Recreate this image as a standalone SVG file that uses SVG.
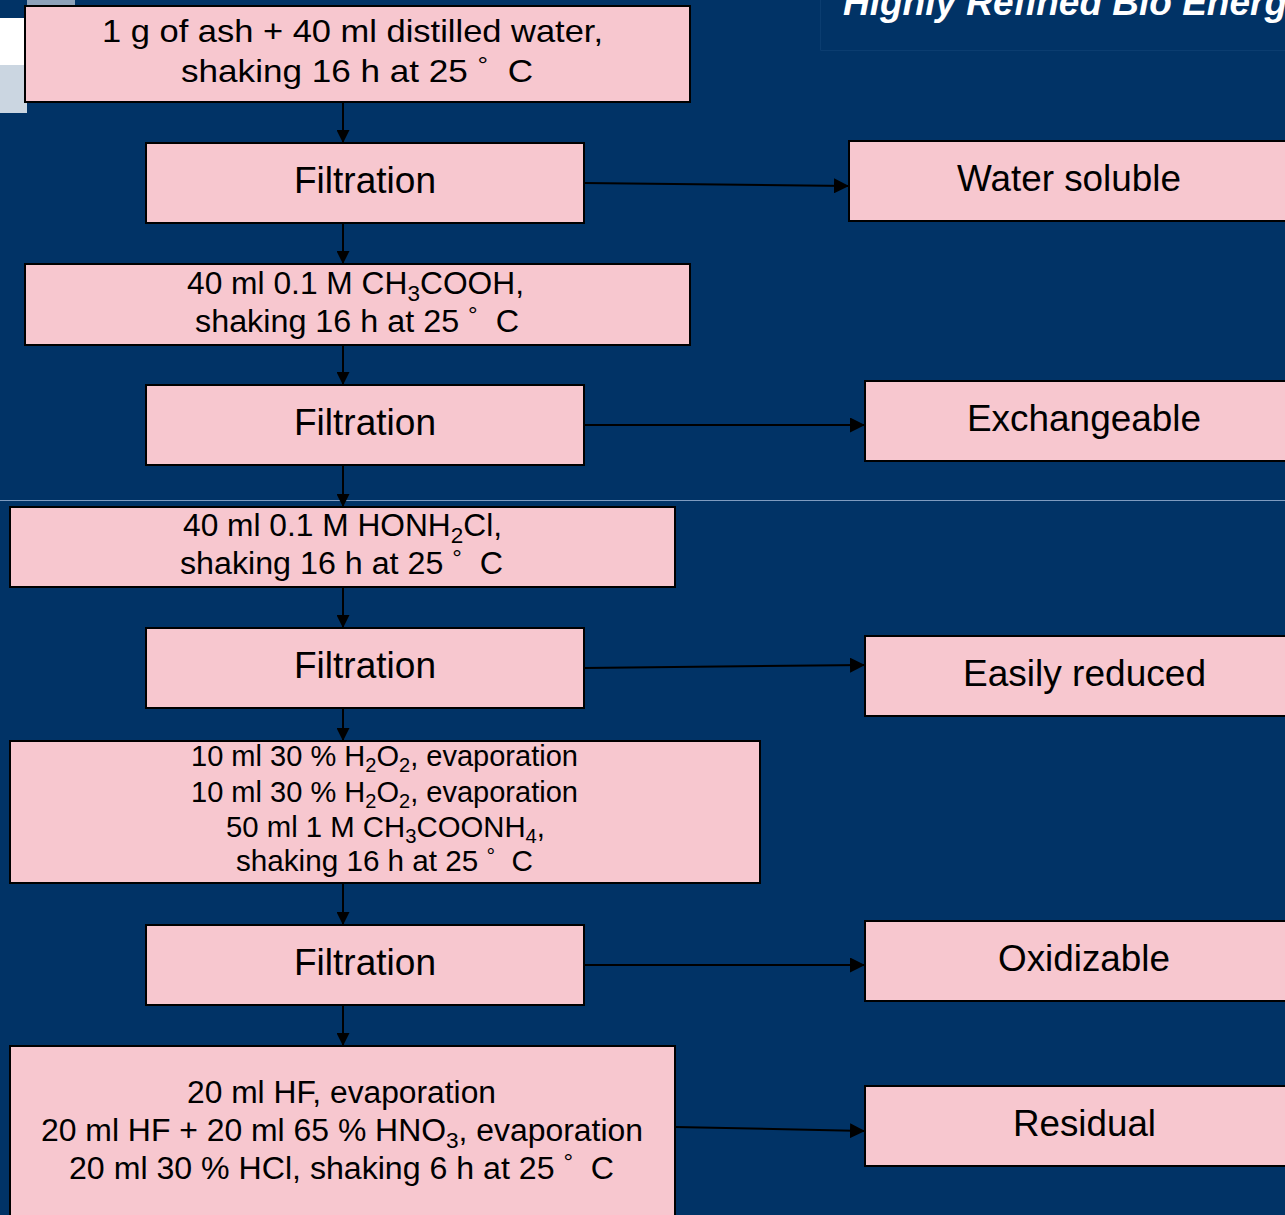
<svg xmlns="http://www.w3.org/2000/svg" width="1285" height="1215" viewBox="0 0 1285 1215">
<style>
.bx{fill:#f7c7cf;stroke:#000;stroke-width:2}
.t{font-family:"Liberation Sans",Arial,sans-serif;fill:#000;white-space:pre}
.ln{stroke:#000;stroke-width:2;fill:none}
</style>
<defs>
<marker id="ah" viewBox="0 0 15 15" refX="15" refY="7.5" markerWidth="15" markerHeight="15" markerUnits="userSpaceOnUse" orient="auto">
<path d="M0,0 L15,7.5 L0,15 z" fill="#000"/>
</marker>
<marker id="av" viewBox="0 0 13 13" refX="13" refY="6.5" markerWidth="13" markerHeight="13" markerUnits="userSpaceOnUse" orient="auto">
<path d="M0,0 L13,6.5 L0,13 z" fill="#000"/>
</marker>
</defs>
<rect width="1285" height="1215" fill="#013366"/>
<g id="background">
<rect x="27" y="0" width="48" height="5" fill="#8ea2ba"/>
<rect x="0" y="18" width="25" height="47" fill="#ffffff"/>
<rect x="0" y="65" width="27" height="48" fill="#cbd6e1"/>
<path d="M820.5,0 V50.5 H1285" fill="none" stroke="#0b3d70" stroke-width="1"/>
<line x1="0" y1="500.5" x2="1285" y2="500.5" stroke="#7f9cc0" stroke-width="1"/>
<text x="843" y="15" font-family="'Liberation Sans',Arial,sans-serif" font-weight="bold" font-style="italic" font-size="37" fill="#fff">Highly Refined Bio Energy</text>
</g>
<g id="connectors">
<line class="ln" x1="343" y1="102" x2="343" y2="143" marker-end="url(#av)"/>
<line class="ln" x1="343" y1="223" x2="343" y2="264" marker-end="url(#av)"/>
<line class="ln" x1="343" y1="345" x2="343" y2="385" marker-end="url(#av)"/>
<line class="ln" x1="343" y1="465" x2="343" y2="507" marker-end="url(#av)"/>
<line class="ln" x1="343" y1="587" x2="343" y2="628" marker-end="url(#av)"/>
<line class="ln" x1="343" y1="708" x2="343" y2="741" marker-end="url(#av)"/>
<line class="ln" x1="343" y1="883" x2="343" y2="925" marker-end="url(#av)"/>
<line class="ln" x1="343" y1="1005" x2="343" y2="1046" marker-end="url(#av)"/>
<line class="ln" x1="584" y1="183" x2="849" y2="186" marker-end="url(#ah)"/>
<line class="ln" x1="584" y1="425" x2="865" y2="425" marker-end="url(#ah)"/>
<line class="ln" x1="584" y1="668" x2="865" y2="665" marker-end="url(#ah)"/>
<line class="ln" x1="584" y1="965" x2="865" y2="965" marker-end="url(#ah)"/>
<line class="ln" x1="675" y1="1127" x2="865" y2="1131" marker-end="url(#ah)"/>
</g>
<g id="n1">
<rect class="bx" x="25" y="6" width="665" height="96"/>
<text class="t" x="102" y="42" font-size="32" textLength="501" lengthAdjust="spacingAndGlyphs">1 g of ash + 40 ml distilled water,</text>
<text class="t" x="181" y="82" font-size="32" textLength="352" lengthAdjust="spacingAndGlyphs">shaking 16 h at 25 <tspan dy="-9" font-size="24">°</tspan><tspan dy="9">  C</tspan></text>
</g>
<g id="f1">
<rect class="bx" x="146" y="143" width="438" height="80"/>
<text class="t" x="294" y="193" font-size="37" textLength="142" lengthAdjust="spacingAndGlyphs">Filtration</text>
</g>
<g id="n2">
<rect class="bx" x="25" y="264" width="665" height="81"/>
<text class="t" x="187" y="294" font-size="31" textLength="337" lengthAdjust="spacingAndGlyphs">40 ml 0.1 M CH<tspan dy="7" font-size="22">3</tspan><tspan dy="-7">COOH,</tspan></text>
<text class="t" x="195" y="332" font-size="31" textLength="324" lengthAdjust="spacingAndGlyphs">shaking 16 h at 25 <tspan dy="-9" font-size="23">°</tspan><tspan dy="9">  C</tspan></text>
</g>
<g id="f2">
<rect class="bx" x="146" y="385" width="438" height="80"/>
<text class="t" x="294" y="435" font-size="37" textLength="142" lengthAdjust="spacingAndGlyphs">Filtration</text>
</g>
<g id="n3">
<rect class="bx" x="10" y="507" width="665" height="80"/>
<text class="t" x="183" y="536" font-size="31" textLength="319" lengthAdjust="spacingAndGlyphs">40 ml 0.1 M HONH<tspan dy="7" font-size="22">2</tspan><tspan dy="-7">Cl,</tspan></text>
<text class="t" x="180" y="574" font-size="31" textLength="323" lengthAdjust="spacingAndGlyphs">shaking 16 h at 25 <tspan dy="-8" font-size="23">°</tspan><tspan dy="8">  C</tspan></text>
</g>
<g id="f3">
<rect class="bx" x="146" y="628" width="438" height="80"/>
<text class="t" x="294" y="678" font-size="37" textLength="142" lengthAdjust="spacingAndGlyphs">Filtration</text>
</g>
<g id="n4">
<rect class="bx" x="10" y="741" width="750" height="142"/>
<text class="t" x="191" y="766" font-size="29" textLength="387" lengthAdjust="spacingAndGlyphs">10 ml 30 % H<tspan dy="6" font-size="20">2</tspan><tspan dy="-6">O</tspan><tspan dy="6" font-size="20">2</tspan><tspan dy="-6">, evaporation</tspan></text>
<text class="t" x="191" y="802" font-size="29" textLength="387" lengthAdjust="spacingAndGlyphs">10 ml 30 % H<tspan dy="6" font-size="20">2</tspan><tspan dy="-6">O</tspan><tspan dy="6" font-size="20">2</tspan><tspan dy="-6">, evaporation</tspan></text>
<text class="t" x="226" y="837" font-size="29" textLength="319" lengthAdjust="spacingAndGlyphs">50 ml 1 M CH<tspan dy="6" font-size="20">3</tspan><tspan dy="-6">COONH</tspan><tspan dy="6" font-size="20">4</tspan><tspan dy="-6">,</tspan></text>
<text class="t" x="236" y="871" font-size="29" textLength="297" lengthAdjust="spacingAndGlyphs">shaking 16 h at 25 <tspan dy="-8" font-size="21">°</tspan><tspan dy="8">  C</tspan></text>
</g>
<g id="f4">
<rect class="bx" x="146" y="925" width="438" height="80"/>
<text class="t" x="294" y="975" font-size="37" textLength="142" lengthAdjust="spacingAndGlyphs">Filtration</text>
</g>
<g id="n5">
<rect class="bx" x="10" y="1046" width="665" height="180"/>
<text class="t" x="187" y="1103" font-size="31" textLength="309" lengthAdjust="spacingAndGlyphs">20 ml HF, evaporation</text>
<text class="t" x="41" y="1141" font-size="31" textLength="602" lengthAdjust="spacingAndGlyphs">20 ml HF + 20 ml 65 % HNO<tspan dy="7" font-size="22">3</tspan><tspan dy="-7">, evaporation</tspan></text>
<text class="t" x="69" y="1179" font-size="31" textLength="545" lengthAdjust="spacingAndGlyphs">20 ml 30 % HCl, shaking 6 h at 25 <tspan dy="-9" font-size="23">°</tspan><tspan dy="9">  C</tspan></text>
</g>
<g id="r1">
<rect class="bx" x="849" y="141" width="460" height="80"/>
<text class="t" x="957" y="191" font-size="36" textLength="224" lengthAdjust="spacingAndGlyphs">Water soluble</text>
</g>
<g id="r2">
<rect class="bx" x="865" y="381" width="440" height="80"/>
<text class="t" x="967" y="431" font-size="36" textLength="234" lengthAdjust="spacingAndGlyphs">Exchangeable</text>
</g>
<g id="r3">
<rect class="bx" x="865" y="636" width="440" height="80"/>
<text class="t" x="963" y="686" font-size="36" textLength="243" lengthAdjust="spacingAndGlyphs">Easily reduced</text>
</g>
<g id="r4">
<rect class="bx" x="865" y="921" width="440" height="80"/>
<text class="t" x="998" y="971" font-size="36" textLength="172" lengthAdjust="spacingAndGlyphs">Oxidizable</text>
</g>
<g id="r5">
<rect class="bx" x="865" y="1086" width="440" height="80"/>
<text class="t" x="1013" y="1136" font-size="36" textLength="143" lengthAdjust="spacingAndGlyphs">Residual</text>
</g>
</svg>
